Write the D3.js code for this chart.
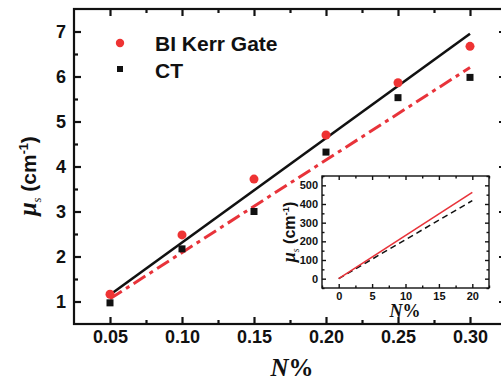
<!DOCTYPE html>
<html>
<head>
<meta charset="utf-8">
<script src="https://cdn.jsdelivr.net/npm/d3@7"></script>
<style>
  body { margin: 0; background: #fff; }
  svg { display: block; }
  .tick-label { font-family: "Liberation Sans", Arial, sans-serif; font-weight: bold; }
</style>
</head>
<body>
<svg id="chart" width="501" height="382"></svg>
<script>
// concentration N% and scattering coefficient values
const concentrations = [0.05, 0.10, 0.15, 0.20, 0.25, 0.30];
const kerrGate = [1.16, 2.48, 3.72, 4.70, 5.86, 6.67];
const ctValues = [0.97, 2.17, 3.00, 4.32, 5.53, 5.98];

// linear fit lines, two end points each
const fitX = [0.05, 0.30];
const fitKerr = [1.15, 6.95];
const fitCT = [1.06, 6.20];

const xTicks = [0.05, 0.10, 0.15, 0.20, 0.25, 0.30];
const yTicks = [1, 2, 3, 4, 5, 6, 7];

// inset: extrapolated lines up to 20 %
const insetX = [0, 20];
const insetRed = [0, 462];
const insetBlack = [0, 418];
const insetXTicks = [0, 5, 10, 15, 20];
const insetYTicks = [0, 100, 200, 300, 400, 500];

const svg = d3.select("#chart");

const x = d3.scaleLinear().domain([0.025, 0.325]).range([74, 506]);
const y = d3.scaleLinear().domain([0.5, 7.5]).range([324, 9]);

const frame = svg.append("g").attr("class", "frame");

// inward ticks on all four sides
const tickDir = (axis, size) => axis.tickSizeInner(-size).tickSizeOuter(0);

function drawAxes(g, xs, ys, opt) {
    const [x0, x1] = xs.range();
    const [y0, y1] = ys.range();

    const minorX = g.append("g").attr("transform", `translate(0,${y0})`)
        .call(tickDir(d3.axisBottom(xs).tickValues(opt.xMinor).tickFormat(""), opt.minor));
    const minorXTop = g.append("g").attr("transform", `translate(0,${y1})`)
        .call(tickDir(d3.axisTop(xs).tickValues(opt.xMinor).tickFormat(""), opt.minor));
    const minorY = g.append("g").attr("transform", `translate(${x0},0)`)
        .call(tickDir(d3.axisLeft(ys).tickValues(opt.yMinor).tickFormat(""), opt.minor));
    const minorYRight = g.append("g").attr("transform", `translate(${x1},0)`)
        .call(tickDir(d3.axisRight(ys).tickValues(opt.yMinor).tickFormat(""), opt.minor));

    const bottom = g.append("g").attr("transform", `translate(0,${y0})`)
        .call(tickDir(d3.axisBottom(xs).tickValues(opt.xTicks).tickFormat(opt.xFormat), opt.major).tickPadding(opt.xPad));
    const top = g.append("g").attr("transform", `translate(0,${y1})`)
        .call(tickDir(d3.axisTop(xs).tickValues(opt.xTicks).tickFormat(""), opt.major));
    const left = g.append("g").attr("transform", `translate(${x0},0)`)
        .call(tickDir(d3.axisLeft(ys).tickValues(opt.yTicks).tickFormat(opt.yFormat), opt.major).tickPadding(opt.yPad));
    const right = g.append("g").attr("transform", `translate(${x1},0)`)
        .call(tickDir(d3.axisRight(ys).tickValues(opt.yTicks).tickFormat(""), opt.major));

    [minorX, minorXTop, minorY, minorYRight, bottom, top, left, right].forEach(a => {
        a.select(".domain").remove();
        a.selectAll("line").attr("stroke", "#111").attr("stroke-width", opt.width);
        a.selectAll("text")
            .attr("class", "tick-label")
            .attr("fill", "#111")
            .style("font-size", opt.font + "px");
    });

    g.append("rect")
        .attr("x", x0).attr("y", y1)
        .attr("width", x1 - x0).attr("height", y0 - y1)
        .attr("fill", "none").attr("stroke", "#111").attr("stroke-width", opt.width);
}

drawAxes(frame, x, y, {
    xTicks, yTicks,
    xMinor: [0.075, 0.125, 0.175, 0.225, 0.275],
    yMinor: [1.5, 2.5, 3.5, 4.5, 5.5, 6.5],
    xFormat: d3.format(".2f"), yFormat: d3.format("d"),
    major: 7, minor: 4, width: 2.2, font: 18, xPad: 6, yPad: 8
});

// fit lines
const line = d3.line().x(d => x(d[0])).y(d => y(d[1]));
svg.append("path")
    .datum(d3.zip(fitX, fitKerr))
    .attr("d", line)
    .attr("fill", "none").attr("stroke", "#111").attr("stroke-width", 2.6);
svg.append("path")
    .datum(d3.zip(fitX, fitCT))
    .attr("d", line)
    .attr("fill", "none").attr("stroke", "#e8333a").attr("stroke-width", 3)
    .attr("stroke-dasharray", "14,5,4,5");

// data points
svg.append("g").selectAll("circle")
    .data(d3.zip(concentrations, kerrGate))
    .join("circle")
    .attr("cx", d => x(d[0])).attr("cy", d => y(d[1]))
    .attr("r", 4.5).attr("fill", "#ee3333");
svg.append("g").selectAll("rect")
    .data(d3.zip(concentrations, ctValues))
    .join("rect")
    .attr("x", d => x(d[0]) - 3.5).attr("y", d => y(d[1]) - 3.5)
    .attr("width", 7).attr("height", 7).attr("fill", "#111");

// legend
const legend = svg.append("g").attr("class", "legend");
legend.append("circle").attr("cx", 120).attr("cy", 43).attr("r", 4.2).attr("fill", "#ee3333");
legend.append("rect").attr("x", 117).attr("y", 66).attr("width", 6).attr("height", 6).attr("fill", "#111");
legend.append("text").attr("x", 155).attr("y", 51).attr("class", "tick-label")
    .style("font-size", "21px").attr("fill", "#111").text("BI Kerr Gate");
legend.append("text").attr("x", 155).attr("y", 78).attr("class", "tick-label")
    .style("font-size", "21px").attr("fill", "#111").text("CT");

// axis titles
function muLabel(g, size) {
    const t = g.append("text").attr("text-anchor", "middle").attr("fill", "#111");
    t.append("tspan").text("\u03bc")
        .style("font-family", "'Liberation Serif', 'Times New Roman', serif")
        .style("font-style", "italic").style("font-weight", "bold")
        .style("font-size", (size * 1.15) + "px");
    t.append("tspan").text("s").attr("dy", size * 0.25)
        .style("font-family", "'Liberation Serif', serif").style("font-style", "italic")
        .style("font-size", (size * 0.6) + "px");
    t.append("tspan").text(" (cm").attr("dy", -size * 0.25)
        .style("font-family", "'Liberation Sans', Arial, sans-serif").style("font-weight", "bold")
        .style("font-size", size + "px");
    t.append("tspan").text("-1").attr("dy", -size * 0.4)
        .style("font-family", "'Liberation Sans', Arial, sans-serif").style("font-weight", "bold")
        .style("font-size", (size * 0.6) + "px");
    t.append("tspan").text(")").attr("dy", size * 0.4)
        .style("font-family", "'Liberation Sans', Arial, sans-serif").style("font-weight", "bold")
        .style("font-size", size + "px");
    return t;
}

function nLabel(g, size) {
    const t = g.append("text").attr("text-anchor", "middle").attr("fill", "#111")
        .style("font-family", "'Liberation Serif', 'Times New Roman', serif")
        .style("font-weight", "bold").style("font-size", size + "px");
    t.append("tspan").text("N").style("font-style", "italic");
    t.append("tspan").text("%");
    return t;
}

muLabel(svg.append("g").attr("transform", "translate(36,176) rotate(-90)"), 21);
nLabel(svg.append("g").attr("transform", "translate(292,376)"), 25);

// inset
const ix = d3.scaleLinear().domain([-2.5, 22.5]).range([322, 489]);
const iy = d3.scaleLinear().domain([-50, 550]).range([288, 176]);

const inset = svg.append("g").attr("class", "inset");
inset.append("rect").attr("x", 322).attr("y", 176).attr("width", 167).attr("height", 112).attr("fill", "#fff");

drawAxes(inset, ix, iy, {
    xTicks: insetXTicks, yTicks: insetYTicks,
    xMinor: [-2.5, 2.5, 7.5, 12.5, 17.5, 22.5],
    yMinor: [-50, 50, 150, 250, 350, 450, 550],
    xFormat: d3.format("d"), yFormat: d3.format("d"),
    major: 4, minor: 2.5, width: 1.4, font: 11, xPad: 4, yPad: 4
});

const iline = d3.line().x(d => ix(d[0])).y(d => iy(d[1]));
inset.append("path")
    .datum(d3.zip(insetX, insetBlack))
    .attr("d", iline)
    .attr("fill", "none").attr("stroke", "#111").attr("stroke-width", 1.5)
    .attr("stroke-dasharray", "6,4");
inset.append("path")
    .datum(d3.zip(insetX, insetRed))
    .attr("d", iline)
    .attr("fill", "none").attr("stroke", "#e8333a").attr("stroke-width", 1.6);

muLabel(inset.append("g").attr("transform", "translate(295,232) rotate(-90)"), 16);
nLabel(inset.append("g").attr("transform", "translate(405,317)"), 18);
</script>
</body>
</html>
